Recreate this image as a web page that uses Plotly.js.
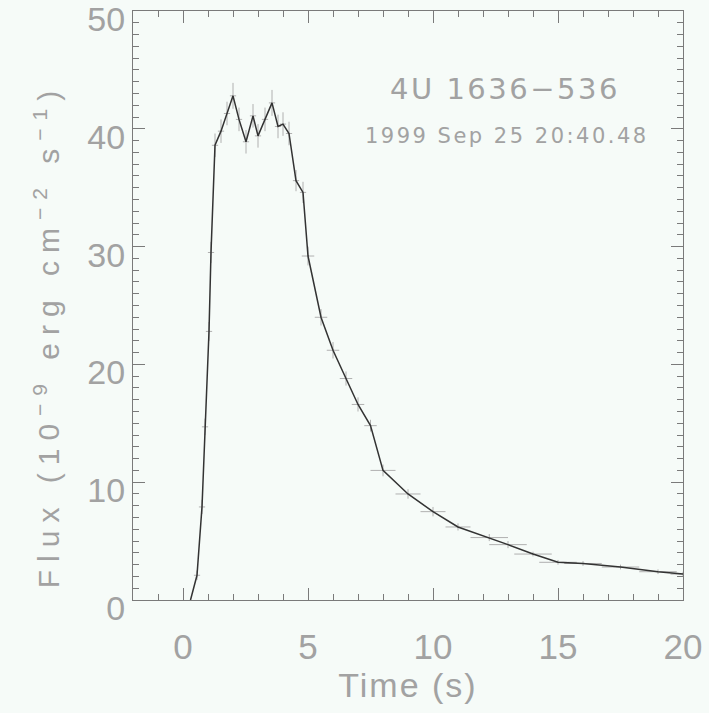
<!DOCTYPE html>
<html>
<head>
<meta charset="utf-8">
<script src="https://cdn.plot.ly/plotly-3.0.1.min.js"></script>
<style>
html,body{margin:0;padding:0;background:#f6fbf8;}
#plot{width:709px;height:713px;}
.ytitle{letter-spacing:8px; translate:0px 30px;}
.xtitle{letter-spacing:2px;}
.annotation-text{letter-spacing:2.5px;}
</style>
</head>
<body>
<div id="plot"></div>
<script>
// Time (s)
var time = [0.30, 0.56, 0.76, 0.88, 1.04, 1.12, 1.28, 1.52, 1.76, 2.00, 2.24, 2.52, 2.80, 3.00, 3.28, 3.56, 3.80, 4.00, 4.24, 4.52, 4.80, 5.00, 5.52, 6.00, 6.52, 7.00, 7.50, 8.00, 9.00, 10.00, 11.00, 12.25, 13.00, 14.00, 15.00, 16.00, 17.50, 19.00, 20.00];
// Flux (1e-9 erg cm^-2 s^-1)
var flux = [0.0, 2.1, 7.9, 14.7, 22.8, 29.5, 38.6, 39.8, 41.3, 42.8, 40.8, 38.9, 41.1, 39.4, 40.8, 42.2, 40.2, 40.4, 39.6, 35.6, 34.6, 29.2, 24.0, 21.2, 18.8, 16.6, 14.8, 11.0, 9.0, 7.5, 6.2, 5.3, 4.7, 3.9, 3.2, 3.1, 2.8, 2.4, 2.2];
// half bin widths (s)
var timeErr = [0, 0.125, 0.125, 0.125, 0.125, 0.125, 0.125, 0.125, 0.125, 0.125, 0.125, 0.125, 0.125, 0.125, 0.125, 0.125, 0.125, 0.125, 0.125, 0.125, 0.125, 0.25, 0.25, 0.25, 0.25, 0.25, 0.25, 0.5, 0.5, 0.5, 0.5, 0.75, 0.75, 0.75, 0.75, 0.75, 0.75, 0.75, 0.5];
// flux errors
var fluxErr = [0, 0.4, 0.6, 0.7, 0.8, 0.9, 1.0, 1.0, 1.0, 1.1, 1.0, 1.0, 1.0, 1.0, 1.0, 1.1, 1.0, 1.0, 1.0, 0.9, 0.9, 0.8, 0.7, 0.7, 0.6, 0.6, 0.5, 0.5, 0.4, 0.4, 0.3, 0.3, 0.3, 0.2, 0.2, 0.2, 0.2, 0.2, 0.2];

var sourceName = "4U 1636\u2212536";
var burstDate = "1999 Sep 25 20:40.48";

var txtColor = "#a2a2a2";
var axColor = "#7a7a7a";

var trace = {
  x: time, y: flux, type: "scatter", mode: "lines",
  line: {color: "#333333", width: 1.5},
  error_x: {type: "data", array: timeErr, visible: true, color: "#b0b0b0", thickness: 1, width: 0},
  error_y: {type: "data", array: fluxErr, visible: true, color: "#b0b0b0", thickness: 1, width: 0},
  hoverinfo: "skip"
};

var layout = {
  width: 709, height: 713,
  paper_bgcolor: "#f6fbf8", plot_bgcolor: "#f6fbf8",
  margin: {l: 133, r: 26, t: 11, b: 113},
  showlegend: false,
  font: {family: "Liberation Sans, Arial, sans-serif", color: txtColor},
  xaxis: {
    range: [-2, 20], tickvals: [0, 5, 10, 15, 20],
    ticks: "inside", ticklen: 12, tickwidth: 1, tickcolor: axColor,
    minor: {dtick: 1, tick0: 0, ticks: "inside", ticklen: 6, tickcolor: axColor, showgrid: false},
    showline: true, linecolor: axColor, linewidth: 1, mirror: "allticks",
    showgrid: false, zeroline: false, ticklabelstandoff: 16, ticklabeloverflow: "allow",
    tickfont: {size: 35, color: txtColor},
    title: {text: "Time (s)", font: {size: 34, color: txtColor}, standoff: 8}
  },
  yaxis: {
    range: [0, 50], tickvals: [0, 10, 20, 30, 40, 50],
    ticks: "inside", ticklen: 12, tickwidth: 1, tickcolor: axColor,
    minor: {dtick: 1, tick0: 0, ticks: "inside", ticklen: 6, tickcolor: axColor, showgrid: false},
    showline: true, linecolor: axColor, linewidth: 1, mirror: "allticks",
    showgrid: false, zeroline: false, ticklabeloverflow: "allow", ticklabelshift: 8,
    tickfont: {size: 34, color: txtColor},
    title: {text: "Flux (10<sup>\u22129</sup> erg cm<sup>\u22122</sup> s<sup>\u22121</sup>)", font: {size: 30, color: txtColor}, standoff: 18}
  },
  annotations: [
    {xref: "paper", yref: "paper", x: 0.677, y: 0.868, xanchor: "center", yanchor: "middle",
     text: sourceName, showarrow: false,
     font: {family: "DejaVu Sans, sans-serif", size: 29, color: txtColor}},
    {xref: "paper", yref: "paper", x: 0.68, y: 0.787, xanchor: "center", yanchor: "middle",
     text: burstDate, showarrow: false,
     font: {family: "DejaVu Sans, sans-serif", size: 21, color: txtColor}}
  ]
};

Plotly.newPlot("plot", [trace], layout, {staticPlot: true, displayModeBar: false});
</script>
</body>
</html>
